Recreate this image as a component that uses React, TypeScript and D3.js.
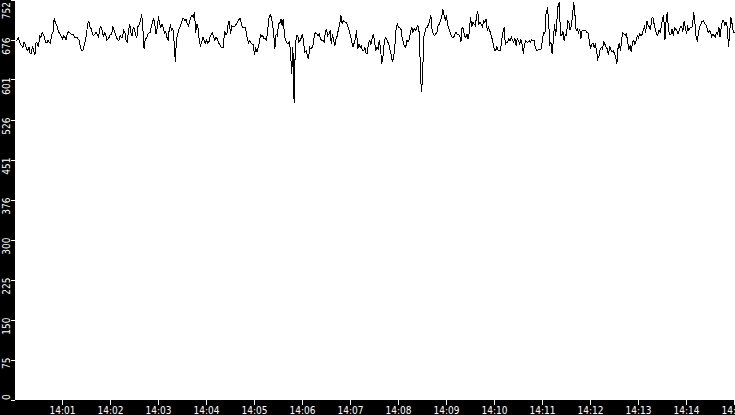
import { useMemo } from 'react'
import * as d3 from 'd3'

// readings every 1.5 s from 14:00:01.5; each segment is ~2 minutes,
// "a" = readings on the half step (:01.5, :04.5 ...), "b" = on the full step (:03, :06 ...)
const seg0a = [675, 680, 668, 661, 667, 656, 651, 665, 647, 670, 684, 690, 680, 670, 671, 687, 716, 705, 690, 682, 684, 676, 692, 687, 687, 680, 678, 662, 657, 675, 707, 699, 686, 687, 686, 697, 694, 689, 676, 681, 687, 694, 681, 675, 680, 694, 675, 694, 690, 700]
const seg0b = [676, 675, 665, 672, 659, 663, 651, 656, 672, 662, 681, 687, 672, 676, 670, 689, 709, 697, 687, 678, 681, 687, 690, 687, 680, 681, 675, 656, 665, 687, 711, 697, 684, 690, 681, 701, 682, 687, 678, 687, 700, 687, 676, 684, 681, 690, 672, 706, 684, 697]
const seg1a = [684, 703, 712, 697, 678, 687, 690, 709, 703, 700, 706, 706, 689, 681, 697, 694, 672, 678, 696, 707, 716, 715, 702, 719, 719, 690, 697, 665, 681, 670, 670, 682, 689, 675, 678, 668, 662, 692, 687, 712, 702, 701, 706, 714, 707, 699, 692, 670, 671, 668]
const seg1b = [681, 705, 725, 659, 678, 689, 701, 717, 687, 720, 700, 699, 692, 675, 703, 697, 634, 687, 701, 716, 712, 706, 712, 722, 728, 706, 675, 672, 675, 675, 672, 687, 681, 681, 670, 663, 662, 687, 706, 687, 700, 703, 711, 716, 700, 700, 678, 675, 668, 647]
const seg2a = [662, 662, 686, 684, 678, 694, 724, 706, 659, 684, 706, 703, 684, 670, 672, 612, 557, 684, 672, 680, 668, 656, 640, 659, 668, 689, 684, 678, 675, 690, 684, 692, 687, 665, 684, 706, 706, 710, 707, 692, 672, 670, 694, 668, 665, 656, 650, 670, 668, 687]
const seg2b = [653, 670, 682, 678, 675, 716, 719, 687, 687, 706, 716, 716, 675, 668, 656, 662, 665, 684, 675, 687, 653, 647, 662, 662, 687, 687, 687, 675, 672, 697, 687, 668, 675, 678, 697, 722, 712, 709, 700, 684, 662, 678, 659, 662, 656, 662, 650, 675, 678, 675]
const seg3a = [656, 659, 662, 643, 680, 672, 656, 634, 665, 706, 699, 681, 663, 675, 678, 700, 697, 697, 697, 578, 681, 699, 705, 722, 687, 687, 703, 712, 734, 714, 703, 690, 680, 687, 687, 684, 700, 684, 687, 690, 700, 706, 719, 706, 705, 712, 716, 699, 686, 668]
const seg3b = [662, 675, 631, 668, 678, 668, 647, 643, 697, 700, 697, 672, 662, 672, 690, 690, 694, 703, 640, 600, 690, 700, 712, 694, 684, 690, 706, 719, 722, 722, 697, 684, 681, 690, 687, 672, 697, 681, 678, 719, 709, 703, 731, 709, 700, 709, 694, 694, 678, 656]
const seg4a = [656, 656, 656, 690, 668, 672, 674, 675, 678, 678, 668, 668, 668, 672, 675, 676, 675, 657, 659, 659, 689, 728, 719, 672, 675, 684, 741, 684, 692, 686, 712, 694, 722, 725, 697, 697, 694, 694, 690, 675, 667, 662, 656, 645, 662, 672, 663, 647, 657, 656]
const seg4b = [663, 656, 675, 700, 672, 678, 681, 672, 665, 675, 676, 650, 674, 672, 672, 675, 662, 656, 657, 678, 687, 734, 668, 650, 706, 712, 747, 684, 675, 684, 709, 703, 747, 694, 690, 678, 694, 694, 689, 659, 670, 667, 640, 659, 659, 668, 659, 665, 653, 650]
const seg5a = [643, 662, 656, 689, 685, 672, 665, 672, 668, 684, 687, 686, 701, 712, 701, 716, 706, 687, 694, 700, 722, 712, 695, 687, 684, 696, 687, 701, 692, 700, 700, 699, 701, 709, 675, 700, 711, 707, 700, 694, 682, 684, 690, 700, 700, 712, 709, 662, 719, 690]
const seg5b = [631, 670, 678, 687, 687, 659, 653, 675, 674, 680, 684, 694, 690, 703, 695, 719, 695, 684, 690, 716, 675, 728, 687, 697, 699, 694, 695, 701, 712, 687, 694, 700, 728, 681, 690, 706, 712, 705, 690, 690, 687, 681, 687, 681, 712, 703, 700, 690, 706, 690]

const segments = [[seg0a, seg0b], [seg1a, seg1b], [seg2a, seg2b], [seg3a, seg3b], [seg4a, seg4b], [seg5a, seg5b]]
const values = segments.flatMap(([a, b]) => a.flatMap((v, i) => [v, b[i]]))

const START = new Date(2000, 0, 1, 14, 0, 0)
const END = new Date(2000, 0, 1, 14, 15, 0)
const STEP_MS = 1500

const Y_MAX = 752
const yTickLabels = ['0', '75', '150', '225', '300', '376', '451', '526', '601', '676', '752']
const xTickLabels = ['14:01', '14:02', '14:03', '14:04', '14:05', '14:06', '14:07', '14:08', '14:09', '14:10', '14:11', '14:12', '14:13', '14:14', '14:15']

const W = 735
const H = 415
const LEFT = 15
const BOTTOM = 400
const FONT = '"DejaVu Sans Condensed", "DejaVu Sans", sans-serif'

interface Pt { t: Date; v: number }

export default function App() {
  const x = useMemo(() => d3.scaleTime().domain([START, END]).range([LEFT - 0.5, W - 0.5]), [])
  const y = useMemo(() => d3.scaleLinear().domain([0, Y_MAX]).range([BOTTOM - 0.5, -0.5]), [])

  const pts: Pt[] = values.map((v, i) => ({ t: new Date(START.getTime() + (i + 1) * STEP_MS), v }))
  const line = d3.line<Pt>().x((p) => x(p.t)).y((p) => y(p.v))

  const yTicks = yTickLabels.map((lab, i) => ({ lab, v: (i * Y_MAX) / (yTickLabels.length - 1) }))
  const xTicks = xTickLabels.map((lab, i) => ({ lab, t: new Date(START.getTime() + (i + 1) * 60000) }))

  return (
    <div style={{ position: 'absolute', left: 0, top: 0 }}>
      <svg width={W} height={H} style={{ display: 'block' }}>
        <rect x={0} y={0} width={W} height={H} fill="#fff" />
        <rect x={0} y={0} width={LEFT} height={H} fill="#000" />
        <rect x={0} y={BOTTOM} width={W} height={H - BOTTOM} fill="#000" />

        <path d={line(pts) ?? ''} fill="none" stroke="#000" strokeWidth={1} shapeRendering="crispEdges" />

        {yTicks.map((tk) => {
          const py = y(tk.v)
          const first = tk.v === 0
          // labels hang below their tick; the bottom one is kept inside the plot
          const ly = first ? BOTTOM : Math.max(py - 2, 2)
          return (
            <g key={tk.lab}>
              <line x1={11} x2={LEFT} y1={Math.round(py) + 0.5} y2={Math.round(py) + 0.5} stroke="#fff" />
              <text transform={`translate(9.5,${ly}) rotate(-90)`} textAnchor={first ? 'start' : 'end'} fill="#fff" fontSize={10} fontFamily={FONT}>{tk.lab}</text>
            </g>
          )
        })}

        {xTicks.map((tk) => {
          const px = x(tk.t)
          return (
            <g key={tk.lab}>
              <line x1={px} x2={px} y1={BOTTOM} y2={BOTTOM + 5} stroke="#fff" />
              <text x={px} y={413.5} textAnchor="middle" fill="#fff" fontSize={10} fontFamily={FONT}>{tk.lab}</text>
            </g>
          )
        })}
      </svg>
    </div>
  )
}
